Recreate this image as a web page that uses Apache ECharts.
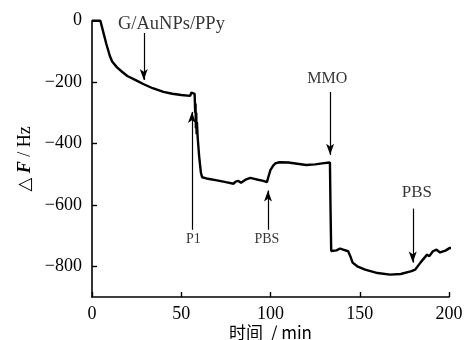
<!DOCTYPE html>
<html>
<head>
<meta charset="utf-8">
<script src="https://cdn.jsdelivr.net/npm/echarts@6/dist/echarts.min.js"></script>
<style>
  html, body { margin: 0; padding: 0; background: #fff; }
  #chart { width: 468px; height: 340px; }
</style>
</head>
<body>
<div id="chart"></div>
<script>
// Frequency shift (ΔF, Hz) versus time (min)
const timeMin = [0, 4.7, 6, 8, 10, 11.3, 14, 17, 19.8, 20.2, 20.6, 25, 29, 34, 34.4, 34.8, 40, 45, 50, 55, 55.7, 56.5, 57.5, 57.8, 58, 58.2, 58.4, 58.6, 58.8, 59.2, 60, 61, 61.7, 65, 70, 75, 79.3, 80.5, 82, 83.5, 86, 88.7, 91, 93, 96, 98, 99, 100, 101.5, 102.7, 105, 110, 115, 120, 125, 130, 133.3, 133.6, 134, 135, 137, 139, 140.7, 143.5, 144.7, 146, 148.6, 153, 160, 167, 173, 179, 181, 184, 187.7, 189, 190, 191, 193, 195, 198, 200.5, 203, 206];
const deltaF = [0, 0, -30, -75, -115, -133, -152, -167, -180, -175, -182, -195, -207, -220, -215, -222, -232, -238, -242, -245, -234, -238, -238, -300, -270, -350, -300, -370, -330, -380, -440, -495, -510, -515, -520, -526, -531, -524, -522, -528, -518, -512, -515, -518, -522, -526, -505, -486, -472, -465, -461, -462, -466, -470, -468, -464, -462, -600, -750, -745, -748, -742, -746, -751, -767, -788, -800, -811, -822, -827, -825, -816, -811, -788, -762, -767, -765, -751, -746, -755, -749, -740, -743, -746];

const xTicks = [0, 50, 100, 150, 200];
const yTicks = [0, -200, -400, -600, -800];

// Annotation arrows: [label, x, yFrom, yTo]
const arrowNames = ['G/AuNPs/PPy', 'P1', 'PBS', 'MMO', 'PBS'];
const arrowX = [29, 56, 98.6, 133.4, 179.7];
const arrowFrom = [-40, -681, -681, -232, -612];
const arrowTo = [-193, -297, -553, -437, -788];
// Annotation text positions and sizes
const labelX = [44.5, 56.8, 98, 131.8, 182];
const labelY = [-12, -713, -713, -190, -560];
const labelSize = [18.5, 14, 14, 16, 17];

const serif = '"Liberation Serif", "DejaVu Serif", serif';

const lineData = timeMin.map((t, i) => [t, deltaF[i]]);

const arrowLines = arrowX.map((x, i) => [
  { coord: [x, arrowFrom[i]], symbol: 'none' },
  { coord: [x, arrowTo[i]], symbol: 'arrow', symbolSize: [6, 11] }
]);

const labelData = arrowNames.map((n, i) => ({
  value: [labelX[i], labelY[i]],
  label: { fontSize: labelSize[i] }
}));

const chart = echarts.init(document.getElementById('chart'));
chart.setOption({
  animation: false,
  grid: { left: 92, right: 19, top: 20.7, bottom: 43, outerBoundsMode: 'none', containLabel: false },
  xAxis: {
    type: 'value',
    min: 0, max: 200, interval: 50,
    name: '时间  / min',
    nameLocation: 'middle',
    nameGap: 27,
    nameMoveOverlap: false,
    nameTextStyle: { fontFamily: '"Noto Sans CJK SC", ' + serif, fontSize: 17, color: '#000' },
    axisLine: { show: true, onZero: false, lineStyle: { color: '#000', width: 1.6 } },
    axisTick: { show: true, inside: true, length: 5, lineStyle: { color: '#000', width: 1.4 }, customValues: xTicks },
    axisLabel: { color: '#000', fontFamily: serif, fontSize: 18, margin: 8, customValues: xTicks },
    splitLine: { show: false }
  },
  yAxis: {
    type: 'value',
    min: -900, max: 0,
    name: '{a|△ }{f|F}{a| / Hz}',
    nameLocation: 'middle',
    nameRotate: 90,
    nameGap: 58,
    nameMoveOverlap: false,
    nameTextStyle: {
      rich: {
        a: { fontFamily: serif, fontSize: 18, color: '#000' },
        f: { fontFamily: serif, fontSize: 18, color: '#000', fontStyle: 'italic', fontWeight: 'bold' }
      }
    },
    axisLine: { show: true, onZero: false, lineStyle: { color: '#000', width: 1.6 } },
    axisTick: { show: true, inside: true, length: 5, lineStyle: { color: '#000', width: 1.4 }, customValues: yTicks.slice(1) },
    axisLabel: {
      color: '#000', fontFamily: serif, fontSize: 18, margin: 10,
      customValues: yTicks,
      formatter: v => String(v).replace('-', '\u2212')
    },
    splitLine: { show: false }
  },
  series: [
    {
      type: 'line',
      data: lineData,
      showSymbol: false,
      clip: false,
      lineStyle: { color: '#000', width: 2.4 },
      markLine: {
        silent: true,
        animation: false,
        label: { show: false },
        lineStyle: { color: '#000', width: 1.2, type: 'solid' },
        emphasis: { disabled: true },
        data: arrowLines
      }
    },
    {
      type: 'scatter',
      data: labelData,
      symbolSize: 0,
      silent: true,
      label: {
        show: true,
        position: 'inside',
        color: '#000',
        fontFamily: serif,
        formatter: p => arrowNames[p.dataIndex]
      }
    }
  ]
});
</script>
</body>
</html>
